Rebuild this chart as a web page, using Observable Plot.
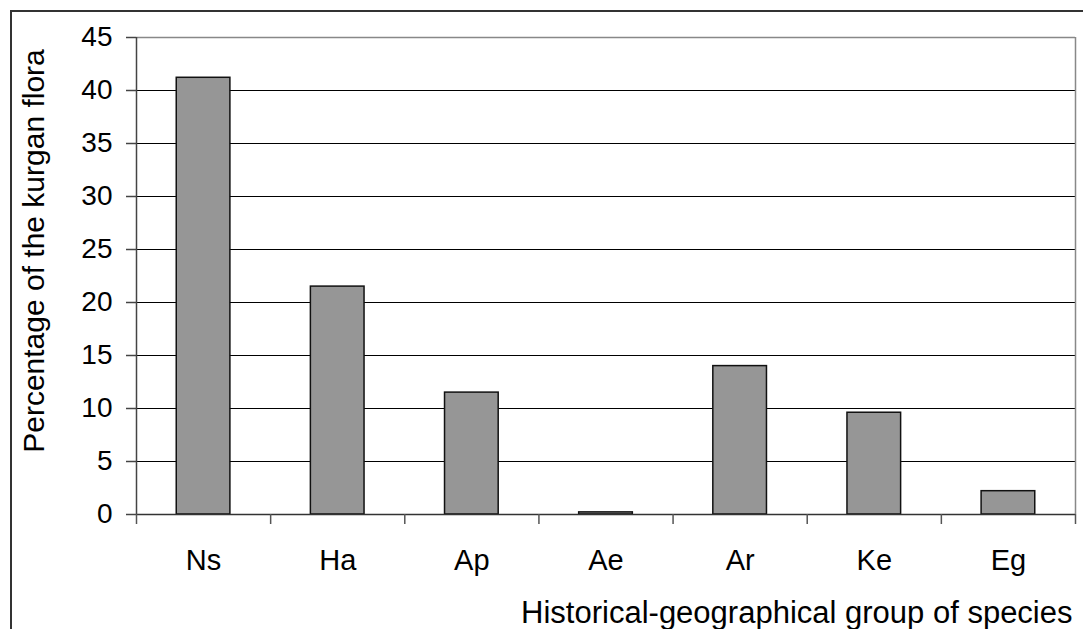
<!DOCTYPE html>
<html>
<head>
<meta charset="utf-8">
<script src="https://cdn.jsdelivr.net/npm/d3@7"></script>
<script src="https://cdn.jsdelivr.net/npm/@observablehq/plot@0.6"></script>
<style>
  html, body { margin: 0; padding: 0; background: #fff; overflow: hidden; }
  #wrap { position: relative; width: 1083px; height: 629px; }
  #frame { position: absolute; left: 10px; top: 10px; width: 1200px; height: 800px;
           border-top: 2px solid #333; border-left: 2px solid #333; pointer-events: none; }
  #chart { position: absolute; left: 0; top: 0; }
</style>
</head>
<body>
<div id="wrap">
  <div id="chart"></div>
  <div id="frame"></div>
</div>
<script>
const groups = ["Ns", "Ha", "Ap", "Ae", "Ar", "Ke", "Eg"];
const percents = [41.2, 21.5, 11.5, 0.2, 14.0, 9.6, 2.2];
const yTicks = [0, 5, 10, 15, 20, 25, 30, 35, 40, 45];
const yTitle = "Percentage of the kurgan flora";
const xTitle = "Historical-geographical group of species";

const data = groups.map((g, i) => ({ g, i, v: percents[i] }));
const boundaries = d3.range(groups.length + 1);
const centers = groups.map((g, i) => i + 0.5);
const FONT = "'Liberation Sans', Arial, sans-serif";

const chart = Plot.plot({
  width: 1083,
  height: 629,
  marginLeft: 136,
  marginRight: 8,
  marginTop: 37,
  marginBottom: 115,
  style: { fontFamily: FONT, color: "#000", background: "transparent" },
  x: { domain: [0, groups.length] },
  y: { domain: [0, 45] },
  marks: [
    Plot.ruleY(yTicks.slice(1, -1), { stroke: "#000", strokeWidth: 1 }),
    Plot.ruleY([45], { stroke: "#888", strokeWidth: 1.5 }),
    Plot.ruleX([groups.length], { stroke: "#888", strokeWidth: 1.5 }),
    Plot.rectY(data, { x1: d => d.i + 0.3, x2: d => d.i + 0.7, y: "v", fill: "#969696", stroke: "#111", strokeWidth: 1.5 }),
    Plot.ruleY([0], { stroke: "#333", strokeWidth: 1.5 }),
    Plot.ruleX([0], { stroke: "#444", strokeWidth: 1.5 }),
    Plot.axisY({ ticks: yTicks, tickSize: 10, tickPadding: 14, stroke: "#444", strokeWidth: 1.5,
      fontSize: 28, fill: "#000", label: null }),
    Plot.axisX({ ticks: boundaries, tickSize: 10, tickFormat: () => "", stroke: "#555", strokeWidth: 1.5, label: null }),
    Plot.axisX({ ticks: centers, tickSize: 0, tickPadding: 35, fontSize: 29, fill: "#000",
      tickFormat: (d) => groups[Math.floor(d)], label: null }),
    Plot.text([xTitle], { frameAnchor: "bottom-right", text: d => d, textAnchor: "end", lineAnchor: "top",
      fontSize: 31, fill: "#000", dy: 86, dx: -3 }),
    Plot.text([yTitle], { frameAnchor: "left", text: d => d, textAnchor: "middle", lineAnchor: "top",
      rotate: -90, fontSize: 30, fill: "#000", dx: -114, dy: -25 })
  ]
});
document.getElementById("chart").appendChild(chart);
</script>
</body>
</html>
